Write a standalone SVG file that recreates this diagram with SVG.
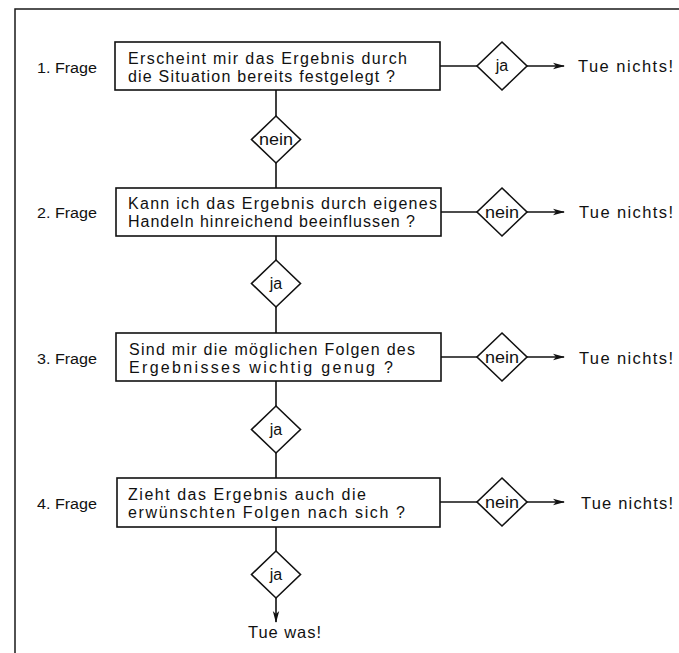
<svg xmlns="http://www.w3.org/2000/svg" width="679" height="653" viewBox="0 0 679 653">
<style>
.frame{fill:none;stroke:#1a1a1a;stroke-width:1.5}
.box{fill:#fff;stroke:#111;stroke-width:1.6}
.dia{fill:#fff;stroke:#111;stroke-width:1.6}
.ln{fill:none;stroke:#111;stroke-width:1.6}
text{font-family:"Liberation Sans",Arial,sans-serif;fill:#111}
.t{font-size:16px}
.lab{font-size:15.5px}
.r{font-size:16.5px}
.d{font-size:16px;text-anchor:middle}
</style>
<defs>
<marker id="ah" markerWidth="12" markerHeight="8" refX="11" refY="4" orient="auto" markerUnits="userSpaceOnUse">
<path d="M0,0.8 L12,4 L0,7.2 L3,4 Z" fill="#111"/>
</marker>
</defs>
<rect width="679" height="653" fill="#fff"/>
<path class="frame" d="M15,653 V9 H679"/>

<g id="connectors">
<path class="ln" d="M276,90 V116 M276,163 V188"/>
<path class="ln" d="M276,236 V260 M276,307 V333"/>
<path class="ln" d="M276,381 V406 M276,453 V478"/>
<path class="ln" d="M276,527 V551"/>
<path class="ln" d="M276,598 V622" marker-end="url(#ah)"/>
<path class="ln" d="M440,66 H477"/>
<path class="ln" d="M527,66 H564" marker-end="url(#ah)"/>
<path class="ln" d="M441,212 H477"/>
<path class="ln" d="M527,212 H564" marker-end="url(#ah)"/>
<path class="ln" d="M441,357 H477"/>
<path class="ln" d="M527,357 H564" marker-end="url(#ah)"/>
<path class="ln" d="M440,502 H477"/>
<path class="ln" d="M527,502 H564" marker-end="url(#ah)"/>
</g>

<g id="q1">
<text class="lab" x="37" y="73" textLength="60" lengthAdjust="spacingAndGlyphs">1. Frage</text>
<rect class="box" x="115" y="42" width="325" height="48"/>
<text class="t" x="128" y="64" textLength="279" lengthAdjust="spacing">Erscheint mir das Ergebnis durch</text>
<text class="t" x="128" y="82" textLength="267" lengthAdjust="spacing">die Situation bereits festgelegt ?</text>
</g>
<g id="d1ja">
<path class="dia" d="M502,42 L527,66 L502,90 L477,66 Z"/>
<text class="d" x="502" y="71">ja</text>
</g>
<g id="r1"><text class="r" x="578" y="72" textLength="95" lengthAdjust="spacing">Tue nichts!</text></g>
<g id="d1nein">
<path class="dia" d="M276,116 L300.5,139.5 L276,163 L251.5,139.5 Z"/>
<text class="d" x="276" y="145" textLength="34" lengthAdjust="spacingAndGlyphs">nein</text>
</g>

<g id="q2">
<text class="lab" x="37" y="218" textLength="60" lengthAdjust="spacingAndGlyphs">2. Frage</text>
<rect class="box" x="116" y="188" width="325" height="48"/>
<text class="t" x="128" y="209" textLength="309" lengthAdjust="spacing">Kann ich das Ergebnis durch eigenes</text>
<text class="t" x="128" y="227" textLength="287" lengthAdjust="spacing">Handeln hinreichend beeinflussen ?</text>
</g>
<g id="d2nein">
<path class="dia" d="M502,188 L527,212 L502,236 L477,212 Z"/>
<text class="d" x="502" y="217.5" textLength="34" lengthAdjust="spacingAndGlyphs">nein</text>
</g>
<g id="r2"><text class="r" x="579" y="218" textLength="94" lengthAdjust="spacing">Tue nichts!</text></g>
<g id="d2ja">
<path class="dia" d="M276,260 L300.5,283.5 L276,307 L251.5,283.5 Z"/>
<text class="d" x="276" y="289">ja</text>
</g>

<g id="q3">
<text class="lab" x="37" y="364" textLength="60" lengthAdjust="spacingAndGlyphs">3. Frage</text>
<rect class="box" x="116" y="333" width="325" height="48"/>
<text class="t" x="129" y="355" textLength="286" lengthAdjust="spacing">Sind mir die möglichen Folgen des</text>
<text class="t" x="129" y="373" textLength="264" lengthAdjust="spacing">Ergebnisses wichtig genug ?</text>
</g>
<g id="d3nein">
<path class="dia" d="M502,333 L527,357 L502,381 L477,357 Z"/>
<text class="d" x="502" y="362.5" textLength="34" lengthAdjust="spacingAndGlyphs">nein</text>
</g>
<g id="r3"><text class="r" x="579" y="364" textLength="94" lengthAdjust="spacing">Tue nichts!</text></g>
<g id="d3ja">
<path class="dia" d="M276,406 L300.5,429.5 L276,453 L251.5,429.5 Z"/>
<text class="d" x="276" y="435">ja</text>
</g>

<g id="q4">
<text class="lab" x="37" y="509" textLength="60" lengthAdjust="spacingAndGlyphs">4. Frage</text>
<rect class="box" x="117" y="478" width="323" height="49"/>
<text class="t" x="128" y="500" textLength="238" lengthAdjust="spacing">Zieht das Ergebnis auch die</text>
<text class="t" x="128" y="518" textLength="277" lengthAdjust="spacing">erwünschten Folgen nach sich ?</text>
</g>
<g id="d4nein">
<path class="dia" d="M502,478 L527,502 L502,526 L477,502 Z"/>
<text class="d" x="502" y="507.5" textLength="34" lengthAdjust="spacingAndGlyphs">nein</text>
</g>
<g id="r4"><text class="r" x="581" y="509" textLength="92" lengthAdjust="spacing">Tue nichts!</text></g>
<g id="d4ja">
<path class="dia" d="M276,551 L300.5,574.5 L276,598 L251.5,574.5 Z"/>
<text class="d" x="276" y="580">ja</text>
</g>
<g id="end"><text class="r" x="248" y="638" textLength="73" lengthAdjust="spacing">Tue was!</text></g>
</svg>
